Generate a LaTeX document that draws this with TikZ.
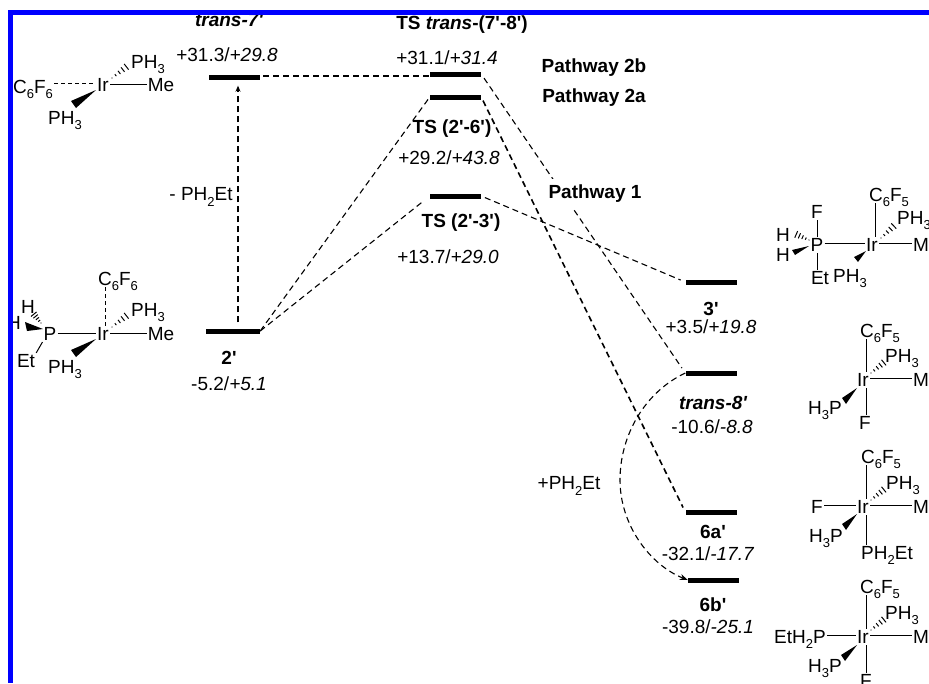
\documentclass[tikz,border=0pt]{standalone}
\usepackage{fontspec}
\setmainfont{Liberation Sans}[Ligatures=TeXOff]
\usetikzlibrary{calc,arrows.meta,backgrounds}
\newcommand{\sbs}[1]{\raisebox{-0.27em}{\fontsize{13}{13}\selectfont #1}}
\newcommand{\hashbond}[2]{%
  \coordinate (ha) at #1; \coordinate (hb) at #2;
  \foreach \i in {0,...,5}{
    \pgfmathsetmacro{\t}{\i/5}
    \pgfmathsetmacro{\w}{0.4+\i*0.8}
    \draw[line width=1pt] ($(ha)!\t!(hb)!\w pt!90:(hb)$) -- ($(ha)!\t!(hb)!\w pt!-90:(hb)$);
  }}
\tikzset{
  atom/.style={inner sep=1pt,text height=13.7pt,text depth=0pt,font=\fontsize{19}{22}\selectfont},
  lab/.style={inner sep=0pt,font=\fontsize{19}{22}\selectfont},
  blab/.style={inner sep=0pt,font=\fontsize{19}{22}\selectfont\bfseries},
  bar/.style={fill=black,inner sep=0pt,minimum width=51pt,minimum height=5pt},
  bond/.style={line width=1pt},
  dbond/.style={line width=1pt,dash pattern=on 4pt off 3pt},
  path/.style={line width=1.1pt,dash pattern=on 6pt off 4pt},
  pathb/.style={line width=1.6pt,dash pattern=on 6pt off 4pt}
}
\begin{document}
\begin{tikzpicture}[x=1pt,y=-1pt]
\useasboundingbox (0,0) rectangle (929,683);
% energy levels
\node[bar] (l7) at (234.5,77) {};
\node[bar,minimum width=54pt] (l2) at (233,331) {};
\node[bar] (t78) at (455.5,74) {};
\node[bar] (t26) at (455.5,97) {};
\node[bar] (t23) at (455.5,196) {};
\node[bar] (l3) at (711,282) {};
\node[bar] (l8) at (711,373) {};
\node[bar] (l6a) at (711,512) {};
\node[bar] (l6b) at (713.5,580) {};
% labels
\node[blab] (n7) at (229,20) {\itshape trans-7'};
\node[lab] (v7) at (227,55) {+31.3/\textit{+29.8}};
\node[blab] (n78) at (462,25) {TS \textit{trans}-(7'-8')};
\node[lab] (v78) at (447,58) {+31.1/\textit{+31.4}};
\node[blab] (p2b) at (594,68) {Pathway 2b};
\node[blab] (p2a) at (594,98) {Pathway 2a};
\node[blab,fill=white,minimum height=30pt,inner xsep=2pt] (p1) at (595,194) {Pathway 1};
\node[blab] (n26) at (452,129) {TS (2'-6')};
\node[lab] (v26) at (449,158) {+29.2/\textit{+43.8}};
\node[blab] (n23) at (461,223) {TS (2'-3')};
\node[lab] (v23) at (448,257) {+13.7/\textit{+29.0}};
\node[lab] (lose) at (201,197) {- PH\sbs{2}Et};
\node[blab] (n2) at (229,358) {2'};
\node[lab] (v2) at (229,384) {-5.2/\textit{+5.1}};
\node[blab] (n3) at (711,309) {3'};
\node[lab] (v3) at (711,327) {+3.5/\textit{+19.8}};
\node[blab] (n8) at (713,403) {\itshape trans-8'};
\node[lab] (v8) at (712,427) {-10.6/\textit{-8.8}};
\node[blab] (n6a) at (713,532) {6a'};
\node[lab] (v6a) at (708,554) {-32.1/\textit{-17.7}};
\node[blab] (n6b) at (713,605) {6b'};
\node[lab] (v6b) at (708,627) {-39.8/\textit{-25.1}};
\node[lab] (add) at (569,486) {+PH\sbs{2}Et};
% connectors
\begin{scope}[on background layer]
\draw[path,-{Stealth[length=6pt,width=5pt]}] ([xshift=5pt,yshift=6pt]l2.north) -- ([xshift=3.5pt,yshift=-6pt]l7.south);
\draw[path,shorten <=3pt] ([yshift=1pt]l7.east) -- ([yshift=1pt]l7.east -| t78.west);
\draw[path] (l2.east) -- (t26.west);
\draw[path,shorten >=7pt] (l2.east) -- (t23.west);
\draw[path,shorten <=5pt,shorten >=6pt] (t78.east) -- (l8.west);
\draw[pathb,shorten <=4pt,shorten >=5pt] (t26.east) -- (l6a.west);
\draw[path,shorten <=4pt,shorten >=5pt] (t23.east) -- (l3.west);
\draw[path,-{Stealth[length=8pt,width=6pt]}] (l8.west) .. controls (645,392) and (620,435) .. (620,480) .. controls (620,525) and (650,565) .. (l6b.west);
\end{scope}
% trans-7'
\node[atom] (a1) at (103,85) {Ir};
\node[atom] (a1c) at (33,87) {C\sbs{6}F\sbs{6}};
\node[atom] (a1p) at (148,62) {PH\sbs{3}};
\node[atom] (a1m) at (161,85) {Me};
\node[atom] (a1q) at (65,118) {PH\sbs{3}};
\draw[dbond] ([yshift=2pt]a1.west -| a1c.east) -- ([yshift=2pt]a1.west);
\draw[bond] ([yshift=1pt]a1.east) -- ([yshift=1pt]a1m.west);
\fill (96,90) -- (71,101) -- (76,108) -- cycle;
\hashbond{(112,78)}{(130,64)}
% 2'
\node[atom] (b1) at (103,334) {Ir};
\node[atom] (b1c) at (118,279) {C\sbs{6}F\sbs{6}};
\node[atom] (b1p) at (148,310) {PH\sbs{3}};
\node[atom] (b1m) at (161,334) {Me};
\node[atom] (b1q) at (65,367) {PH\sbs{3}};
\node[atom] (b1r) at (50,334) {P};
\node[atom] (b1h) at (28,307) {H};
\node[atom] (b1i) at (14,323) {H};
\node[atom] (b1e) at (26,361) {Et};
\draw[dbond] ([xshift=2pt]b1.north) -- ([xshift=2pt]b1.north |- b1c.south);
\draw[bond] ([yshift=1pt]b1.east) -- ([yshift=1pt]b1m.west);
\draw[bond] ([yshift=1pt]b1r.east) -- ([yshift=1pt]b1.west);
\draw[bond] (b1r.south west) -- (b1e.north east);
\fill (96,339) -- (71,350) -- (76,357) -- cycle;
\fill (43,329) -- (25,322) -- (27,331) -- cycle;
\hashbond{(112,327)}{(130,313)}
\hashbond{(41,323)}{(32,312)}
% 3'
\node[atom] (c1) at (872,245) {Ir};
\node[atom] (c1c) at (889,195) {C\sbs{6}F\sbs{5}};
\node[atom] (c1p) at (914,218) {PH\sbs{3}};
\node[atom] (c1m) at (921,245) {M};
\node[atom] (c1q) at (850,276) {PH\sbs{3}};
\node[atom] (c1r) at (817,245) {P};
\node[atom] (c1f) at (817,212) {F};
\node[atom] (c1e) at (820,278) {Et};
\node[atom] (c1h) at (783,235) {H};
\node[atom] (c1i) at (783,255) {H};
\draw[bond] ([xshift=3pt]c1.north) -- ([xshift=3pt]c1.north |- c1c.south);
\draw[bond] ([yshift=2pt]c1.east) -- ([yshift=2pt]c1m.west);
\draw[bond] ([yshift=2pt]c1r.east) -- ([yshift=2pt]c1.west);
\draw[bond] (c1f.south) -- (c1r.north);
\draw[bond] (c1r.south) -- (c1r.south |- c1e.north);
\fill (866,251) -- (854,257) -- (858,262) -- cycle;
\fill (809,246) -- (792,250) -- (795,255) -- cycle;
\hashbond{(881,238)}{(897,223)}
\hashbond{(809,240)}{(793,233)}
% trans-8'
\node[atom] (d1) at (863,380) {Ir};
\node[atom] (d1c) at (880,331) {C\sbs{6}F\sbs{5}};
\node[atom] (d1p) at (902,356) {PH\sbs{3}};
\node[atom] (d1m) at (921,380) {M};
\node[atom] (d1q) at (825,408) {H\sbs{3}P};
\node[atom] (d1f) at (865,423) {F};
\draw[bond] ([xshift=3pt]d1.north) -- ([xshift=3pt]d1.north |- d1c.south);
\draw[bond] ([xshift=3pt]d1.south) -- ([xshift=3pt]d1.south |- d1f.north);
\draw[bond] ([yshift=2pt]d1.east) -- ([yshift=2pt]d1m.west);
\fill (857,388) -- (842,398) -- (846,404) -- cycle;
\hashbond{(871,373)}{(887,360)}
% 6a'
\node[atom] (e1) at (863,507) {Ir};
\node[atom] (e1c) at (881,457) {C\sbs{6}F\sbs{5}};
\node[atom] (e1p) at (903,483) {PH\sbs{3}};
\node[atom] (e1m) at (921,507) {M};
\node[atom] (e1f) at (817,507) {F};
\node[atom] (e1q) at (826,536) {H\sbs{3}P};
\node[atom] (e1e) at (887,553) {PH\sbs{2}Et};
\draw[bond] ([xshift=3pt]e1.north) -- ([xshift=3pt]e1.north |- e1c.south);
\draw[bond] ([xshift=3pt]e1.south) -- ([xshift=3pt]e1.south |- e1e.north);
\draw[bond] ([yshift=2pt]e1.east) -- ([yshift=2pt]e1m.west);
\draw[bond] ([yshift=2pt]e1f.east) -- ([yshift=2pt]e1.west);
\fill (857,514) -- (842,524) -- (846,530) -- cycle;
\hashbond{(871,500)}{(887,487)}
% 6b'
\node[atom] (f1) at (863,637) {Ir};
\node[atom] (f1c) at (880,587) {C\sbs{6}F\sbs{5}};
\node[atom] (f1p) at (902,613) {PH\sbs{3}};
\node[atom] (f1m) at (921,637) {M};
\node[atom] (f1e) at (800,637) {EtH\sbs{2}P};
\node[atom] (f1q) at (825,666) {H\sbs{3}P};
\node[atom] (f1f) at (866,681) {F};
\draw[bond] ([xshift=3pt]f1.north) -- ([xshift=3pt]f1.north |- f1c.south);
\draw[bond] ([xshift=3pt]f1.south) -- ([xshift=3pt]f1.south |- f1f.north);
\draw[bond] ([yshift=2pt]f1.east) -- ([yshift=2pt]f1m.west);
\draw[bond] ([yshift=2pt]f1e.east) -- ([yshift=2pt]f1.west);
\fill (857,645) -- (841,655) -- (845,661) -- cycle;
\hashbond{(871,630)}{(887,617)}
% blue frame
\fill[blue] (8,10) rectangle (929,15);
\fill[blue] (8,10) rectangle (13,683);
\end{tikzpicture}
\end{document}
